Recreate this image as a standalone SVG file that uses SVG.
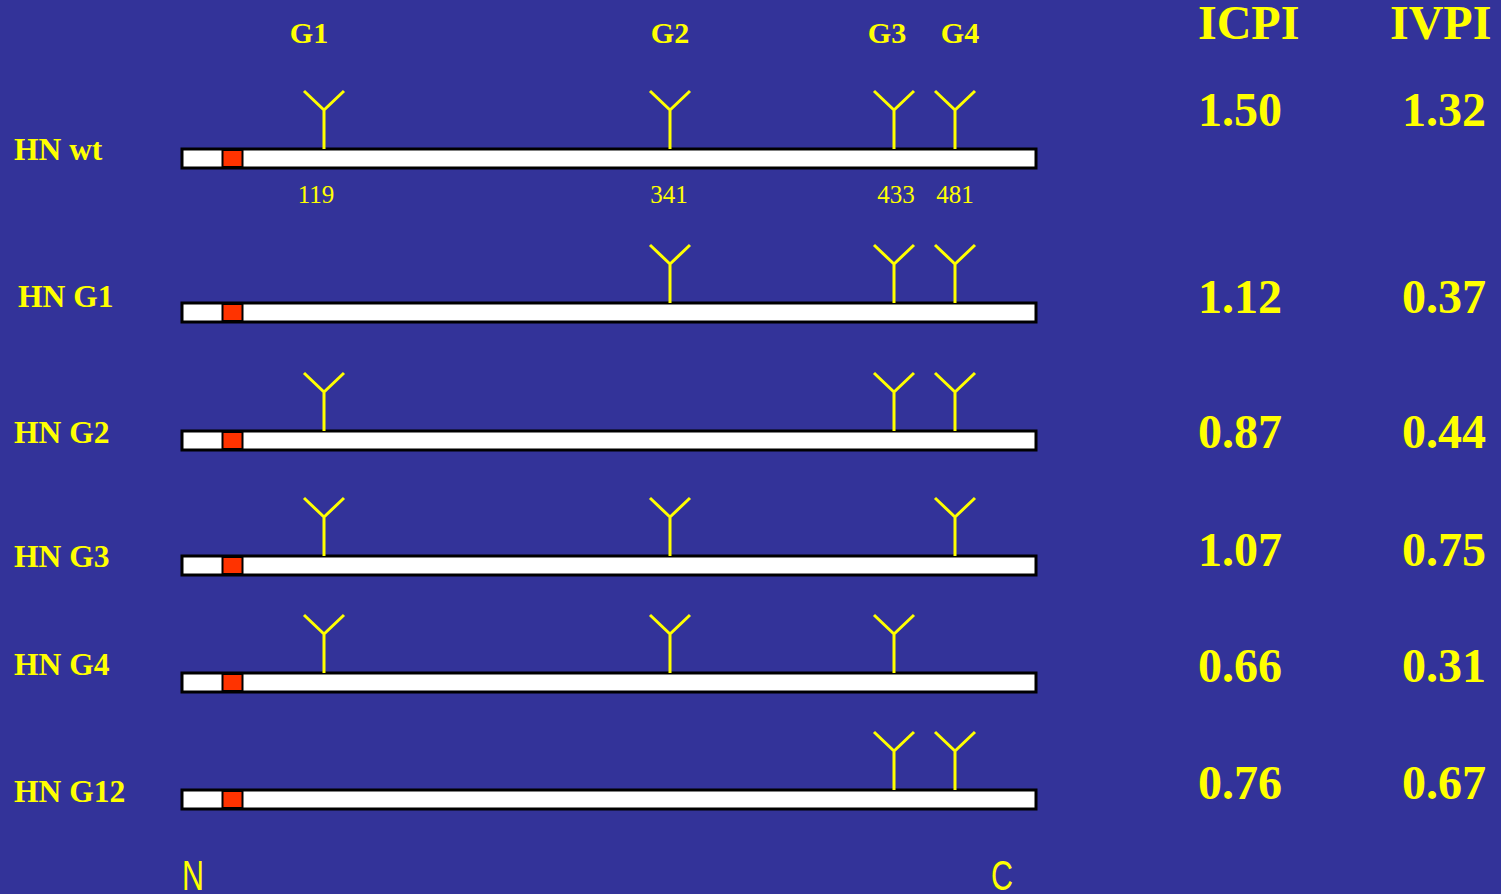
<svg xmlns="http://www.w3.org/2000/svg" width="1501" height="894" viewBox="0 0 1501 894">
<defs>
<style>
.lbl{font-family:"Liberation Serif","Times New Roman",serif;font-weight:bold;fill:#FFFF00;font-size:31.5px}
.big{font-family:"Liberation Serif","Times New Roman",serif;font-weight:bold;fill:#FFFF00;font-size:48px}
.num{font-family:"Liberation Serif","Times New Roman",serif;fill:#FFFF00;font-size:25px;text-anchor:middle}
.hdr{font-family:"Liberation Serif","Times New Roman",serif;font-weight:bold;fill:#FFFF00;font-size:30px;text-anchor:middle}
.nc{font-family:"Liberation Sans","Arial",sans-serif;fill:#FFFF00;font-size:43px}
.bar{fill:#FFFFFF;stroke:#000000;stroke-width:3}
.tm{fill:#FF3300;stroke:#000000;stroke-width:2}
.gly{fill:none;stroke:#FFFF00;stroke-width:3}
</style>
<g id="Y"><path class="gly" d="M0 0 V-39 M-20 -58 L0 -39 L20 -58"/></g>
<g id="protein"><rect class="bar" x="182" y="0" width="854" height="19"/><rect class="tm" x="222.5" y="1" width="20" height="17"/></g>
</defs>
<rect x="0" y="0" width="1501" height="894" fill="#333399"/>

<g id="headers">
<text class="hdr" x="309" y="43">G1</text>
<text class="hdr" x="670" y="43">G2</text>
<text class="hdr" x="887" y="43">G3</text>
<text class="hdr" x="960" y="43">G4</text>
<text class="big" x="1198" y="39">ICPI</text>
<text class="big" x="1390" y="39">IVPI</text>
</g>

<g id="row-wt">
<text class="lbl" x="14" y="160">HN wt</text>
<use href="#protein" y="149"/>
<use href="#Y" x="324" y="149"/><use href="#Y" x="670" y="149"/><use href="#Y" x="894" y="149"/><use href="#Y" x="955" y="149"/>
<text class="num" x="316" y="203">119</text>
<text class="num" x="669" y="203">341</text>
<text class="num" x="896" y="203">433</text>
<text class="num" x="955" y="203">481</text>
<text class="big" x="1198" y="126">1.50</text>
<text class="big" x="1402" y="126">1.32</text>
</g>

<g id="row-G1">
<text class="lbl" x="18" y="307">HN G1</text>
<use href="#protein" y="303"/>
<use href="#Y" x="670" y="303"/><use href="#Y" x="894" y="303"/><use href="#Y" x="955" y="303"/>
<text class="big" x="1198" y="313">1.12</text>
<text class="big" x="1402" y="313">0.37</text>
</g>

<g id="row-G2">
<text class="lbl" x="14" y="443">HN G2</text>
<use href="#protein" y="431"/>
<use href="#Y" x="324" y="431"/><use href="#Y" x="894" y="431"/><use href="#Y" x="955" y="431"/>
<text class="big" x="1198" y="448">0.87</text>
<text class="big" x="1402" y="448">0.44</text>
</g>

<g id="row-G3">
<text class="lbl" x="14" y="567">HN G3</text>
<use href="#protein" y="556"/>
<use href="#Y" x="324" y="556"/><use href="#Y" x="670" y="556"/><use href="#Y" x="955" y="556"/>
<text class="big" x="1198" y="566">1.07</text>
<text class="big" x="1402" y="566">0.75</text>
</g>

<g id="row-G4">
<text class="lbl" x="14" y="675">HN G4</text>
<use href="#protein" y="673"/>
<use href="#Y" x="324" y="673"/><use href="#Y" x="670" y="673"/><use href="#Y" x="894" y="673"/>
<text class="big" x="1198" y="682">0.66</text>
<text class="big" x="1402" y="682">0.31</text>
</g>

<g id="row-G12">
<text class="lbl" x="14" y="802">HN G12</text>
<use href="#protein" y="790"/>
<use href="#Y" x="894" y="790"/><use href="#Y" x="955" y="790"/>
<text class="big" x="1198" y="799">0.76</text>
<text class="big" x="1402" y="799">0.67</text>
</g>

<g id="termini">
<text class="nc" x="182" y="890" textLength="22" lengthAdjust="spacingAndGlyphs">N</text>
<text class="nc" x="991" y="890" textLength="22" lengthAdjust="spacingAndGlyphs">C</text>
</g>
</svg>
